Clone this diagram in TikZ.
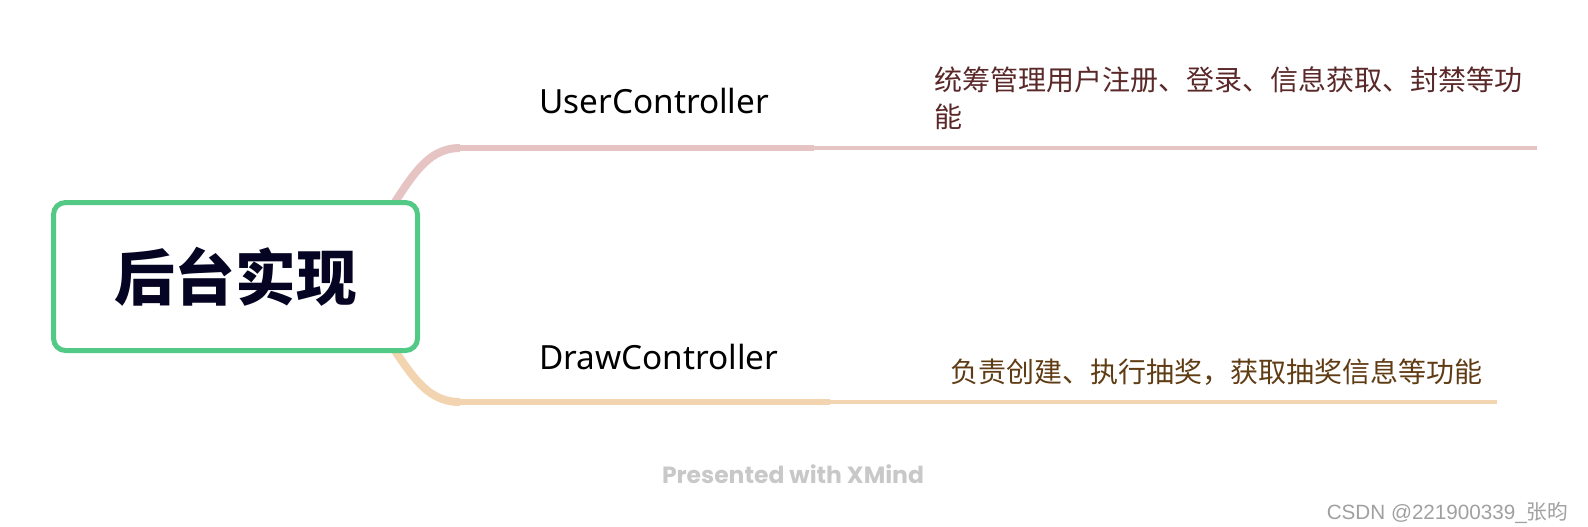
\documentclass[tikz,border=0pt]{standalone}
\usepackage{fontspec}
\setmainfont{Noto Sans}
\newfontfamily\cjk{Noto Sans CJK SC}
\newfontfamily\wmfont{Liberation Sans}
\newfontfamily\brandfont{Poppins}
\usepackage{tikz}
\usetikzlibrary{positioning,backgrounds}
\definecolor{rootgreen}{RGB}{82,201,133}
\definecolor{rootink}{RGB}{5,5,35}
\definecolor{userpink}{RGB}{231,196,196}
\definecolor{drawtan}{RGB}{242,212,176}
\definecolor{userink}{RGB}{90,40,40}
\definecolor{drawink}{RGB}{96,60,20}

\begin{document}
\begin{tikzpicture}[
    x=0.75pt, y=-0.75pt,
    rootbox/.style={rectangle, draw=rootgreen, line width=3.75pt, rounded corners=9pt, fill=white,
        minimum width=273pt, minimum height=111pt, font=\cjk\bfseries\fontsize{45.5}{50}\selectfont, text=rootink},
    topic/.style={anchor=west, inner sep=0pt, font=\fontsize{25}{30}\selectfont, text=black},
    desc/.style={anchor=west, inner sep=0pt, align=left, font=\cjk\fontsize{21}{28}\selectfont},
    branch/.style={line width=6pt},
    stem/.style={line width=4.6pt},
    twig/.style={line width=2.6pt}
]
    \useasboundingbox (0,0) rectangle (1588,526);

    \node[rootbox] (root) at (235.5,276.5) {后台实现};

    % topics
    \node[topic] (user) at (539,101) {UserController};
    \node[topic] (draw) at (539,357) {DrawController};
    \coordinate (ujoin) at (460,148);
    \coordinate (umid) at (814,148);
    \coordinate (uend) at (1537,148);
    \coordinate (djoin) at (460,402);
    \coordinate (dmid) at (830,402);
    \coordinate (dend) at (1497,402);

    % descriptions
    \node[desc, text=userink, anchor=north west] (userdesc) at (934,66) {统筹管理用户注册、登录、信息获取、封禁等功\\能};
    \node[desc, text=drawink] (drawdesc) at (950,372) {负责创建、执行抽奖，获取抽奖信息等功能};

    \begin{scope}[on background layer]
        \draw[branch, userpink] ([shift={(-40,-51.5)}]root.east) .. controls +(30,-45) and +(-35,0) .. (ujoin);
        \draw[stem, userpink] (ujoin) -- (umid);
        \draw[twig, userpink] (umid) -- (uend);
        \draw[branch, drawtan] ([shift={(-40,51.5)}]root.east) .. controls +(30,45) and +(-35,0) .. (djoin);
        \draw[stem, drawtan] (djoin) -- (dmid);
        \draw[twig, drawtan] (dmid) -- (dend);
    \end{scope}

    \node[font=\brandfont\bfseries\fontsize{17.6}{20}\selectfont, text={rgb,255:red,200;green,200;blue,200}] (brand) at (793,474) {Presented with XMind};
    \node[anchor=east, font=\wmfont\fontsize{15.5}{18}\selectfont, text={rgb,255:red,160;green,160;blue,160}] (mark) at (1573,513) {CSDN @221900339\_{\cjk 张昀}};
\end{tikzpicture}
\end{document}
